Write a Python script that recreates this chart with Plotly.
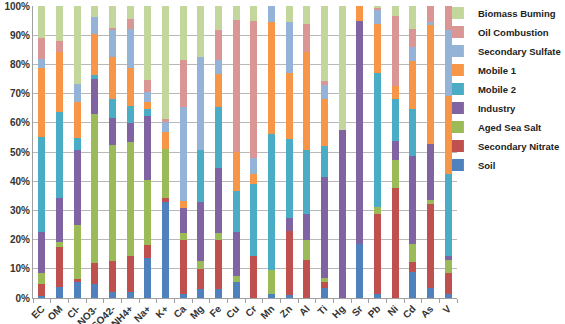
import plotly.graph_objects as go

categories = ["EC", "OM", "Cl-", "NO3-", "SO42-", "NH4+", "Na+", "K+", "Ca", "Mg", "Fe", "Cu",
              "Cr", "Mn", "Zn", "Al", "Ti", "Hg", "Sr", "Pb", "Ni", "Cd", "As", "V"]

soil =              [0.7, 3.8, 5.4, 4.7, 2.1, 2.2, 13.8, 32.8, 1.5, 3.1, 3.1, 5.5, 0, 1.5, 0.9, 0, 3.5, 0, 18.4, 1.3, 0, 8.9, 3.5, 1.5]
secondary_nitrate = [4.0, 13.5, 1.2, 7.4, 10.6, 12.1, 4.5, 1.6, 18.2, 7.0, 16.9, 0, 14.4, 0, 22.1, 13.1, 1.9, 0, 0, 27.4, 37.8, 3.4, 28.8, 7.1]
aged_sea_salt =     [3.8, 2.0, 18.3, 50.9, 39.6, 39.0, 22.0, 16.8, 2.7, 2.5, 2.3, 2.2, 0, 8.2, 0, 6.7, 1.5, 0, 0, 2.5, 9.4, 6.1, 1.4, 4.5]
industry =          [14.1, 15.1, 25.7, 11.9, 9.5, 6.7, 22.0, 0, 8.3, 20.3, 22.3, 15.0, 0, 0, 4.4, 8.9, 34.6, 57.7, 76.5, 0, 6.6, 30.3, 19.0, 1.3]
mobile_2 =          [32.6, 29.3, 4.3, 1.6, 6.4, 5.7, 2.4, 0, 0, 17.7, 20.7, 14.0, 24.6, 46.6, 26.9, 21.9, 10.6, 0, 0, 45.9, 14.3, 15.9, 0, 28.0]
mobile_1 =          [23.7, 20.6, 12.2, 13.8, 14.4, 12.9, 2.4, 5.6, 2.4, 0, 11.4, 13.2, 3.6, 38.1, 22.8, 33.7, 16.2, 0, 5.1, 16.7, 4.6, 16.5, 40.8, 26.7]
secondary_sulfate = [2.9, 0, 6.2, 5.8, 9.4, 13.4, 3.3, 3.4, 32.4, 32.0, 4.8, 0, 5.5, 5.6, 17.3, 0, 4.5, 0, 0, 4.8, 0, 4.7, 1.0, 22.7]
oil_combustion =    [7.1, 3.7, 0, 0, 0.6, 3.5, 4.2, 1.1, 16.0, 0, 10.3, 45.3, 46.8, 0, 0, 9.5, 1.5, 0, 0, 0.9, 24.0, 6.2, 5.5, 8.2]
biomass_burning =   [11.1, 12.0, 26.7, 3.9, 7.4, 4.5, 25.4, 38.7, 18.5, 17.4, 8.2, 4.8, 5.1, 0, 5.6, 6.2, 25.7, 42.3, 0, 0.5, 3.3, 8.0, 0, 0]

y_ticks = [0, 10, 20, 30, 40, 50, 60, 70, 80, 90, 100]
y_tick_labels = ["0%", "10%", "20%", "30%", "40%", "50%", "60%", "70%", "80%", "90%", "100%"]

series = [
    ("Soil", soil, "#4F81BD"),
    ("Secondary Nitrate", secondary_nitrate, "#C0504D"),
    ("Aged Sea Salt", aged_sea_salt, "#9BBB59"),
    ("Industry", industry, "#8064A2"),
    ("Mobile 2", mobile_2, "#4BACC6"),
    ("Mobile 1", mobile_1, "#F79646"),
    ("Secondary Sulfate", secondary_sulfate, "#95B3D7"),
    ("Oil Combustion", oil_combustion, "#D99694"),
    ("Biomass Buming", biomass_burning, "#C3D69B"),
]

fig = go.Figure()
for name, vals, color in series:
    fig.add_trace(go.Bar(x=categories, y=vals, name=name, marker_color=color,
                         marker_line_width=0))

font_family = "Liberation Sans, Arial, sans-serif"
fig.update_layout(
    barmode="stack",
    barnorm="percent",
    bargap=0.6,
    width=565, height=324,
    margin=dict(l=33, r=108, t=6, b=26, autoexpand=False),
    paper_bgcolor="white",
    plot_bgcolor="white",
    font=dict(family=font_family, size=10, color="#333333", weight="bold"),
    legend=dict(
        x=0.955, y=0.406, xanchor="left", yanchor="bottom",
        traceorder="reversed",
        font=dict(size=9.5, color="#222222", weight="bold"),
        itemwidth=30,
        bgcolor="rgba(0,0,0,0)",
    ),
    showlegend=True,
)
fig.update_xaxes(
    tickangle=-45,
    showline=True, linecolor="#A0A0A0", linewidth=1,
    ticks="outside", tickson="boundaries", ticklen=4, tickcolor="#A0A0A0",
    showgrid=False, automargin=False,
    tickfont=dict(size=10, color="#333333", weight="bold"),
)
fig.update_yaxes(
    range=[0, 100],
    tickmode="array",
    tickvals=y_ticks,
    ticktext=y_tick_labels,
    showline=True, linecolor="#A0A0A0", linewidth=1,
    showgrid=True, gridcolor="#B8B8B8", gridwidth=1,
    ticks="", zeroline=False, automargin=False,
    tickfont=dict(size=10, color="#333333", weight="bold"),
)

fig.write_html("out.html")
